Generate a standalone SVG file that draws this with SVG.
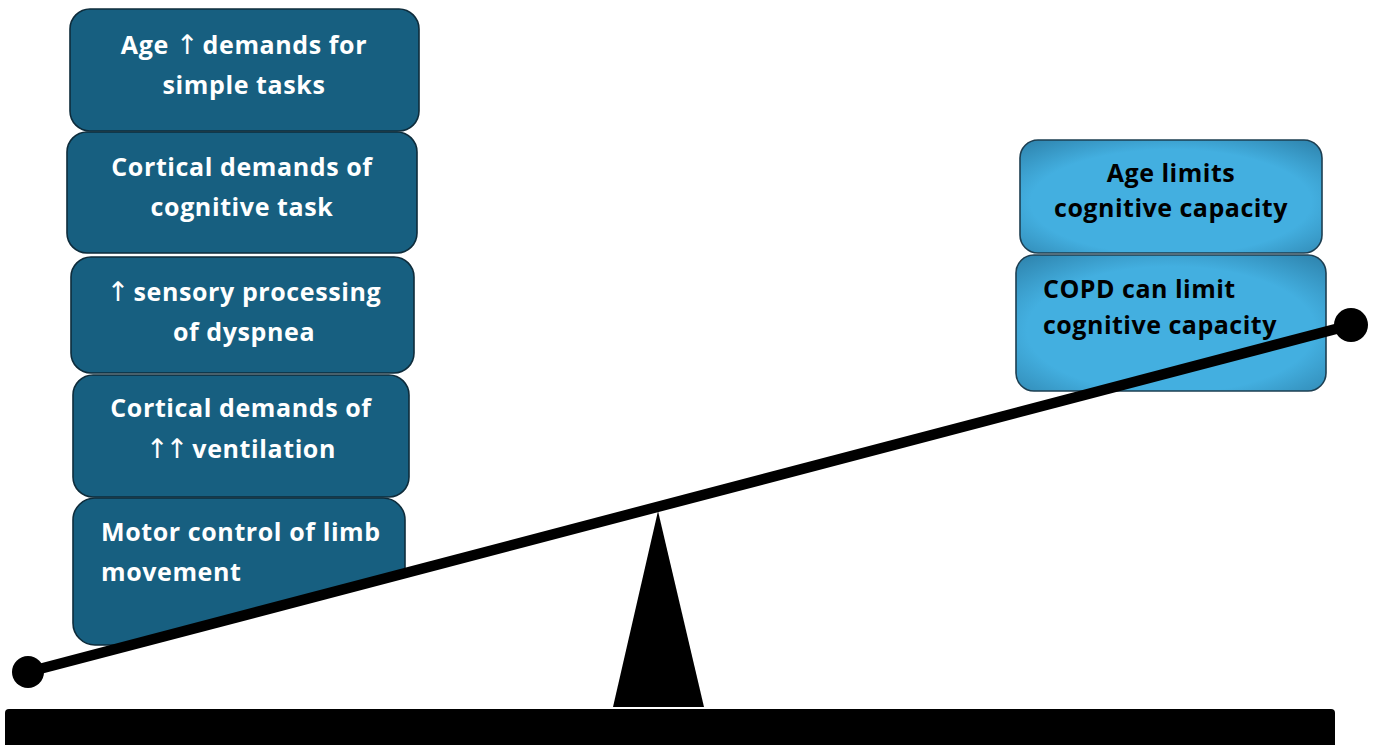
<svg xmlns="http://www.w3.org/2000/svg" width="1379" height="745" viewBox="0 0 1379 745">
<style>
.dk{fill:#175f80;stroke:#0e2c3b;stroke-width:1.6}
.lt{fill:url(#lg);stroke:#1d3f52;stroke-width:1.6}
.tw{font-family:"Open Sans","Liberation Sans",sans-serif;font-weight:700;font-size:25px;letter-spacing:0.6px;fill:#ffffff}
.tb{font-family:"Open Sans","Liberation Sans",sans-serif;font-weight:700;font-size:25px;letter-spacing:0.5px;fill:#000000}
.c{text-anchor:middle}
.ar{font-family:"DejaVu Sans",sans-serif;font-weight:400;font-size:27px;letter-spacing:-3px}
</style>
<defs>
<radialGradient id="lg" cx="0.5" cy="0.55" r="0.75">
<stop offset="0.62" stop-color="#43afe0"/>
<stop offset="1" stop-color="#2c7fa8"/>
</radialGradient>
<clipPath id="above">
<polygon points="0,0 1379,0 1379,316 0,680"/>
</clipPath>
</defs>
<rect x="0" y="0" width="1379" height="745" fill="#ffffff"/>
<g id="n1"><rect class="dk" x="70" y="9" width="349" height="122" rx="20"/>
<text class="tw c" x="244" y="54">Age <tspan class="ar">↑</tspan> demands for</text>
<text class="tw c" x="244" y="94">simple tasks</text></g>
<g id="n2"><rect class="dk" x="67" y="132" width="350" height="121" rx="20"/>
<text class="tw c" x="242" y="176">Cortical demands of</text>
<text class="tw c" x="242" y="216">cognitive task</text></g>
<g id="n3"><rect class="dk" x="71" y="257" width="343" height="116" rx="20"/>
<text class="tw c" x="244" y="301"><tspan class="ar">↑</tspan> sensory processing</text>
<text class="tw c" x="244" y="341">of dyspnea</text></g>
<g id="n4"><rect class="dk" x="73" y="375" width="336" height="122" rx="20"/>
<text class="tw c" x="241" y="417">Cortical demands of</text>
<text class="tw c" x="241" y="458"><tspan class="ar">↑↑</tspan> ventilation</text></g>
<g id="n5"><rect class="dk" x="73" y="498" width="332" height="147" rx="22" clip-path="url(#above)"/>
<text class="tw" x="101" y="541">Motor control of limb</text>
<text class="tw" x="101" y="581">movement</text></g>
<g id="n6"><rect class="lt" x="1020" y="140" width="302" height="113" rx="18"/>
<text class="tb c" x="1171" y="182">Age limits</text>
<text class="tb c" x="1171" y="217">cognitive capacity</text></g>
<g id="n7"><rect class="lt" x="1016" y="255" width="310" height="136" rx="18"/>
<text class="tb" x="1043" y="298">COPD can limit</text>
<text class="tb" x="1043" y="334">cognitive capacity</text></g>
<g id="scale">
<polygon points="658,511 613,707 704,707" fill="#000"/>
<rect x="5" y="709" width="1330" height="40" rx="4" fill="#000"/>
<line x1="28" y1="672" x2="1351" y2="325" stroke="#000" stroke-width="10.5"/>
<circle cx="28" cy="672" r="16" fill="#000"/>
<circle cx="1351" cy="325" r="17" fill="#000"/>
</g>
</svg>
